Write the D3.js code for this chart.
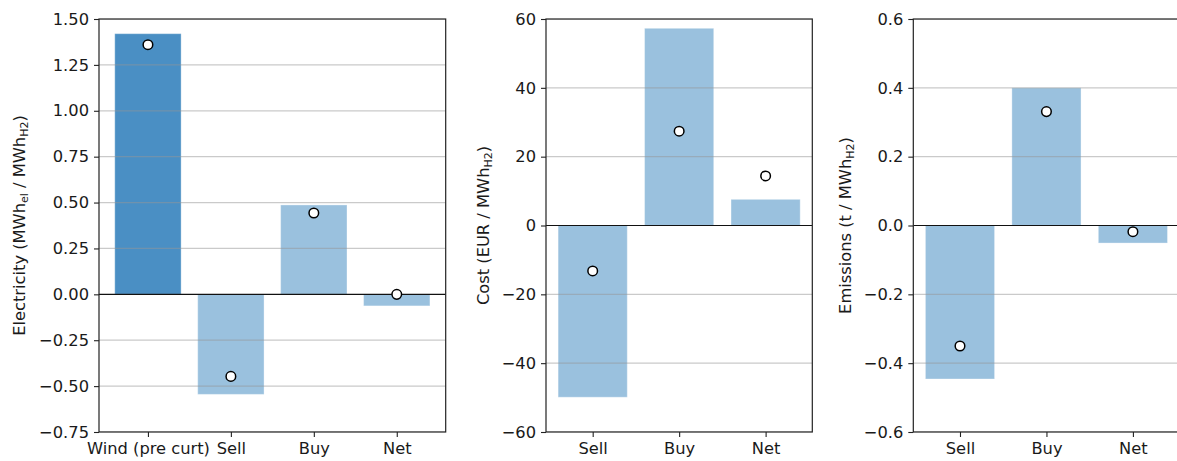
<!DOCTYPE html>
<html>
<head>
<meta charset="utf-8">
<script src="https://cdn.jsdelivr.net/npm/d3@7"></script>
<style>
  body { margin: 0; background: #fff; }
  text { font-family: "DejaVu Sans", sans-serif; fill: #1a1a1a; }
</style>
</head>
<body>
<script>
var width = 1177,
    height = 461;

/* ============================ DATA ============================ */
var elecCats = ["Wind (pre curt)", "Sell", "Buy", "Net"];
var elecBars = [1.42, -0.545, 0.487, -0.063];
var elecDots = [1.36, -0.447, 0.443, 0.0];
var elecTicks = [-0.75, -0.5, -0.25, 0, 0.25, 0.5, 0.75, 1.0, 1.25, 1.5];

var costCats = ["Sell", "Buy", "Net"];
var costBars = [-49.9, 57.3, 7.6];
var costDots = [-13.2, 27.4, 14.4];
var costTicks = [-60, -40, -20, 0, 20, 40, 60];

var emisCats = ["Sell", "Buy", "Net"];
var emisBars = [-0.446, 0.40, -0.051];
var emisDots = [-0.35, 0.331, -0.018];
var emisTicks = [-0.6, -0.4, -0.2, 0, 0.2, 0.4, 0.6];

var darkBlue = "#4a8fc4",
    lightBlue = "#9ac1de";
var fontSize = '16.3px';

var svg = d3.select('body').append('svg')
    .attr('width', width)
    .attr('height', height);

var top_ = 19, bottom_ = 432;

/* ============================ ONE PANEL ============================ */
function panel(opt) {
  var n = opt.cats.length;
  var margin = (n - 0.2) * 0.05;  // matplotlib default x margins
  var x = d3.scaleLinear()
      .domain([-0.4 - margin, n - 0.6 + margin])
      .range([opt.left, opt.right]);
  var y = d3.scaleLinear()
      .domain(opt.yDomain)
      .range([bottom_, top_]);

  var g = svg.append('g');
  var clipId = 'clip' + opt.id;
  svg.append('clipPath').attr('id', clipId)
    .append('rect')
      .attr('x', opt.left).attr('y', top_)
      .attr('width', opt.right - opt.left).attr('height', bottom_ - top_);

  var plot = g.append('g').attr('clip-path', 'url(#' + clipId + ')');

  // bars
  plot.selectAll('.bar')
      .data(opt.bars)
    .enter().append('rect')
      .attr('class', 'bar')
      .attr('x', (d, i) => x(i - 0.4))
      .attr('width', x(0.8) - x(0))
      .attr('y', d => y(Math.max(0, d)))
      .attr('height', d => Math.abs(y(d) - y(0)))
      .attr('fill', (d, i) => (opt.highlightFirst && i === 0) ? darkBlue : lightBlue)
      .attr('stroke', 'rgba(255,255,255,0.35)')
      .attr('stroke-width', 1);

  // grid
  plot.selectAll('.grid')
      .data(opt.ticks.filter(t => t !== 0))
    .enter().append('line')
      .attr('x1', opt.left).attr('x2', opt.right)
      .attr('y1', d => y(d)).attr('y2', d => y(d))
      .attr('stroke', 'rgba(150,150,150,0.5)')
      .attr('stroke-width', 1.2);

  // zero line
  plot.append('line')
      .attr('x1', opt.left).attr('x2', opt.right)
      .attr('y1', y(0)).attr('y2', y(0))
      .attr('stroke', '#111')
      .attr('stroke-width', 1.2);

  // dots
  g.selectAll('.dot')
      .data(opt.dots)
    .enter().append('circle')
      .attr('cx', (d, i) => x(i))
      .attr('cy', d => y(d))
      .attr('r', 4.8)
      .attr('fill', '#fff')
      .attr('stroke', '#000')
      .attr('stroke-width', 1.5);

  // frame
  g.append('rect')
      .attr('x', opt.left).attr('y', top_)
      .attr('width', opt.right - opt.left).attr('height', bottom_ - top_)
      .attr('fill', 'none')
      .attr('stroke', '#222')
      .attr('stroke-width', 1.2);

  // y axis
  var yAxis = d3.axisLeft(y)
      .tickValues(opt.ticks)
      .tickSize(5)
      .tickPadding(5)
      .tickFormat(d => d3.format(opt.fmt)(d).replace('-', '\u2212'));
  var ya = g.append('g')
      .attr('transform', 'translate(' + opt.left + ',0)')
      .call(yAxis);
  ya.select('.domain').remove();
  ya.selectAll('.tick line').attr('stroke', '#222').attr('stroke-width', 1.1);
  ya.selectAll('.tick text')
      .style('font-family', '"DejaVu Sans", sans-serif')
      .style('font-size', fontSize)
      .attr('fill', '#1a1a1a');

  // x axis
  var xAxis = d3.axisBottom(x)
      .tickValues(d3.range(n))
      .tickSize(5)
      .tickPadding(5)
      .tickFormat(i => opt.cats[i]);
  var xa = g.append('g')
      .attr('transform', 'translate(0,' + bottom_ + ')')
      .call(xAxis);
  xa.select('.domain').remove();
  xa.selectAll('.tick line').attr('stroke', '#222').attr('stroke-width', 1.1);
  xa.selectAll('.tick text')
      .style('font-family', '"DejaVu Sans", sans-serif')
      .style('font-size', fontSize)
      .attr('fill', '#1a1a1a');

  // y label with subscripts
  var lab = g.append('text')
      .attr('transform', 'translate(' + opt.labelX + ',' + ((top_ + bottom_) / 2) + ') rotate(-90)')
      .attr('text-anchor', 'middle')
      .style('font-size', fontSize);
  opt.label.forEach(function(p) {
    var t = lab.append('tspan').text(p.t);
    if (p.sub) {
      t.style('font-size', '11px').attr('dy', 3);
    } else if (p.after) {
      t.attr('dy', -3);
    }
  });
}

panel({
  id: 1, cats: elecCats, bars: elecBars, dots: elecDots, ticks: elecTicks,
  yDomain: [-0.75, 1.5], fmt: '.2f', left: 99, right: 445.7, labelX: 25,
  highlightFirst: true,
  label: [{t: 'Electricity (MWh'}, {t: 'el', sub: true}, {t: ' / MWh', after: true},
          {t: 'H2', sub: true}, {t: ')', after: true}]
});

panel({
  id: 2, cats: costCats, bars: costBars, dots: costDots, ticks: costTicks,
  yDomain: [-60, 60], fmt: 'd', left: 546, right: 812.3, labelX: 489,
  label: [{t: 'Cost (EUR / MWh'}, {t: 'H2', sub: true}, {t: ')', after: true}]
});

panel({
  id: 3, cats: emisCats, bars: emisBars, dots: emisDots, ticks: emisTicks,
  yDomain: [-0.6, 0.6], fmt: '.1f', left: 913.3, right: 1179.6, labelX: 851,
  label: [{t: 'Emissions (t / MWh'}, {t: 'H2', sub: true}, {t: ')', after: true}]
});
</script>
</body>
</html>
